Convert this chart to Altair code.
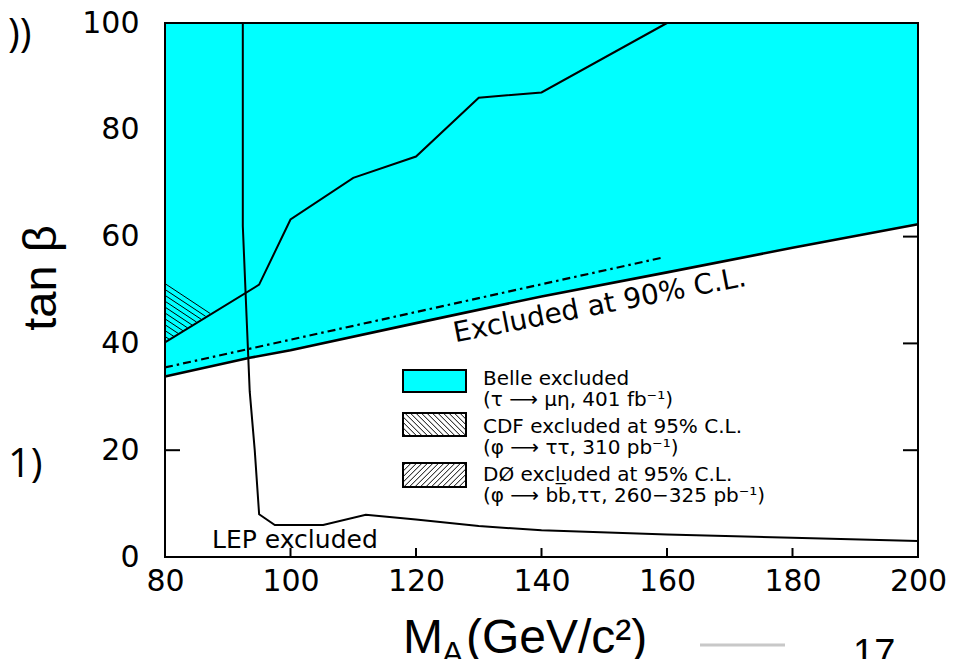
import altair as alt
import pandas as pd

# ---------------- data ----------------
x_ticks = [80, 100, 120, 140, 160, 180, 200]
y_ticks = [0, 20, 40, 60, 80, 100]

belle_mass = [80, 93.5, 100, 120, 140, 160, 180, 200]
belle_tanb = [33.8, 37.3, 38.7, 43.8, 48.8, 53.3, 57.9, 62.3]

upper_mass = [80, 95, 100, 110, 120, 130, 140, 160]
upper_tanb = [40.2, 51.0, 63.2, 71.0, 75.0, 86.0, 87.0, 100.0]

lep_mass = [92.4, 92.4, 93.0, 93.5, 94.3, 95.0, 97.5, 105.2, 112.0, 120.0, 130.0, 140.0, 160.0, 180.0, 200.0]
lep_tanb = [100, 62, 45, 31, 20, 8.0, 6.0, 6.0, 7.9, 7.0, 5.8, 5.0, 4.2, 3.6, 3.0]

dashdot_mass = [80, 159]
dashdot_tanb = [35.5, 56.0]

cdf_tri_mass = [80, 87.2, 80]
cdf_tri_tanb = [51.2, 45.6, 40.2]

legend_labels = [
    "Belle excluded",
    "(τ ⟶ μη, 401 fb⁻¹)",
    "CDF excluded at 95% C.L.",
    "(φ ⟶ ττ, 310 pb⁻¹)",
    "DØ excluded at 95% C.L.",
    "(φ ⟶ bb\u0305,ττ, 260−325 pb⁻¹)",
]

# ---------------- layout ----------------
W, H = 753, 534
X0, X1, Y0, Y1 = 80, 200, 0, 100
FONT = "DejaVu Sans"
TFONT = "Liberation Sans"


def px2x(p):
    return X0 + p / W * (X1 - X0)


def py2y(p):
    return Y1 - p / H * (Y1 - Y0)


xs = alt.Scale(domain=[X0, X1], nice=False, zero=False)
ys = alt.Scale(domain=[Y0, Y1], nice=False, zero=False)
xaxis = alt.Axis(values=x_ticks, ticks=False, domain=False, grid=False, title=None,
                 labelFont=FONT, labelFontSize=30, labelColor="black", labelPadding=9,
                 labelFlush=False, zindex=1)
yaxis = alt.Axis(values=y_ticks, ticks=False, domain=False, grid=False, title=None,
                 labelFont=FONT, labelFontSize=30, labelColor="black", labelPadding=26,
                 labelFlush=False, zindex=1)


def X(f):
    return alt.X(f, type="quantitative", scale=xs, axis=xaxis)


def Y(f):
    return alt.Y(f, type="quantitative", scale=ys, axis=yaxis)


# inward ticks
rows = []
for t in x_ticks[1:-1]:
    rows.append((t, t, 0, py2y(H - 9)))
for t in y_ticks:
    rows.append((X0, px2x(15), t, t))
    rows.append((X1, px2x(W - 15), t, t))
ticks_df = pd.DataFrame(rows, columns=["xa", "xb", "ya", "yb"])
ticks = alt.Chart(ticks_df).mark_rule(color="black", strokeWidth=2).encode(
    x=X("xa"), x2="xb", y=Y("ya"), y2="yb")

# Belle region
belle_df = pd.DataFrame({"m": belle_mass, "t": belle_tanb})
belle_area = alt.Chart(belle_df).mark_area(color="#00FFFF", opacity=1).encode(
    x=X("m"), y=Y("t"), y2=alt.datum(100))
belle_line = alt.Chart(belle_df).mark_line(color="black", strokeWidth=2.6).encode(
    x=X("m"), y=Y("t"))

# CDF hatched triangle
ax_, bx_, cx_ = cdf_tri_mass
ay_, by_, cy_ = cdf_tri_tanb
m_top = (by_ - ay_) / (bx_ - ax_)
m_bot = (by_ - cy_) / (bx_ - cx_)
hrows = []
c = cy_ + 1.1
while c <= ay_ + 0.01:
    d = (c - cy_) / (m_bot - m_top)
    hrows.append((ax_, ax_ + d, c, c + m_top * d))
    c += 1.1
hatch_df = pd.DataFrame(hrows, columns=["xa", "xb", "ya", "yb"])
hatch = alt.Chart(hatch_df).mark_rule(color="black", strokeWidth=1).encode(
    x=X("xa"), x2="xb", y=Y("ya"), y2="yb")

# curves
upper_df = pd.DataFrame({"m": upper_mass, "t": upper_tanb, "o": range(len(upper_mass))})
upper = alt.Chart(upper_df).mark_line(color="black", strokeWidth=2).encode(
    x=X("m"), y=Y("t"), order="o:Q")
lep_df = pd.DataFrame({"m": lep_mass, "t": lep_tanb, "o": range(len(lep_mass))})
lep = alt.Chart(lep_df).mark_line(color="black", strokeWidth=2).encode(
    x=X("m"), y=Y("t"), order="o:Q")
dd_df = pd.DataFrame({"m": dashdot_mass, "t": dashdot_tanb})
dashdot = alt.Chart(dd_df).mark_line(color="black", strokeWidth=2.2, strokeDash=[8, 4, 2.5, 4]).encode(
    x=X("m"), y=Y("t"))

# frame
frame = alt.Chart(pd.DataFrame({"a": [0]})).mark_rect(
    filled=False, stroke="black", strokeWidth=2).encode(
    x=alt.value(0), x2=alt.value(W), y=alt.value(0), y2=alt.value(H))

# in-plot annotations
ann_df = pd.DataFrame({"m": [87.5], "t": [1.7], "txt": ["LEP excluded"]})
lep_txt = alt.Chart(ann_df).mark_text(font=FONT, fontSize=25, align="left",
                                      baseline="alphabetic", color="black").encode(
    x=X("m"), y=Y("t"), text="txt")
ex_df = pd.DataFrame({"m": [149.3], "t": [47.0], "txt": ["Excluded at 90% C.L."]})
ex_txt = alt.Chart(ex_df).mark_text(font=FONT, fontSize=28, align="center",
                                    baseline="middle", angle=349, color="black").encode(
    x=X("m"), y=Y("t"), text="txt")

# legend
lg_rows_px = [356, 377, 404, 425, 452, 473]
lg_df = pd.DataFrame({"m": [px2x(318)] * 6, "t": [py2y(p) for p in lg_rows_px],
                      "txt": legend_labels})
lg_txt = alt.Chart(lg_df).mark_text(font=FONT, fontSize=20, align="left",
                                    baseline="middle", color="black").encode(
    x=X("m"), y=Y("t"), text="txt")

boxes_px = [(238, 347, 301, 369), (238, 390, 301, 413), (238, 440, 301, 464)]
box_df = pd.DataFrame({
    "xa": [px2x(b[0]) for b in boxes_px], "xb": [px2x(b[2]) for b in boxes_px],
    "ya": [py2y(b[1]) for b in boxes_px], "yb": [py2y(b[3]) for b in boxes_px],
    "fill": ["#00FFFF", "white", "white"]})
lg_box_fill = alt.Chart(box_df).mark_rect(stroke=None).encode(
    x=X("xa"), x2="xb", y=Y("ya"), y2="yb",
    color=alt.Color("fill:N", scale=None, legend=None))


def hatch_box(x0, y0, x1, y1, step, direction):
    segs = []
    if direction == "back":
        k = x0 - y1 + step / 2
        while k < x1 - y0:
            xa = max(x0, k + y0)
            xb = min(x1, k + y1)
            if xb > xa:
                segs.append((xa, xa - k, xb, xb - k))
            k += step
    else:
        k = x0 + y0 + step / 2
        while k < x1 + y1:
            xa = max(x0, k - y1)
            xb = min(x1, k - y0)
            if xb > xa:
                segs.append((xa, k - xa, xb, k - xb))
            k += step
    return segs


lh = []
for s in hatch_box(*boxes_px[1], 5.5, "back") + hatch_box(*boxes_px[2], 5.5, "fwd"):
    lh.append((px2x(s[0]), px2x(s[2]), py2y(s[1]), py2y(s[3])))
lh_df = pd.DataFrame(lh, columns=["xa", "xb", "ya", "yb"])
lg_hatch = alt.Chart(lh_df).mark_rule(color="black", strokeWidth=1).encode(
    x=X("xa"), x2="xb", y=Y("ya"), y2="yb")
lg_box_edge = alt.Chart(box_df).mark_rect(filled=False, stroke="black", strokeWidth=2).encode(
    x=X("xa"), x2="xb", y=Y("ya"), y2="yb")

# axis titles and slide fragments (pixel offsets relative to plot area)
one = pd.DataFrame({"a": [0]})


def ptext(txt, x, y, size, font=TFONT, angle=0, align="left", baseline="alphabetic", color="black"):
    kw = dict(text=txt, font=font, fontSize=size, align=align, baseline=baseline, color=color)
    if angle:
        kw["angle"] = angle
    return alt.Chart(one).mark_text(**kw).encode(x=alt.value(x), y=alt.value(y))


titles = [
    ptext("tan β", -123, 255, 47, angle=270, align="center", baseline="middle"),
    ptext("M", 238, 630, 48),
    ptext("A", 277, 641, 32),
    ptext("(GeV/c²)", 301, 630, 48),
    ptext("))", -157, 24, 40, font="Open Sans"),
    ptext("1)", -157, 454, 40, font="Open Sans"),
    ptext("17", 688, 643, 38),
]
smear = alt.Chart(one).mark_rule(color="#c8c8c8", strokeWidth=3).encode(
    x=alt.value(535), x2=alt.value(620), y=alt.value(622))

chart = alt.layer(
    ticks, belle_area, hatch, belle_line, upper, lep, dashdot, frame,
    lep_txt, ex_txt, lg_box_fill, lg_hatch, lg_box_edge, lg_txt, smear, *titles
).properties(
    width=W, height=H,
    padding={"left": 157, "top": 15, "right": 51, "bottom": 102},
    autosize=alt.AutoSizeParams(type="none"),
    background="white",
).configure_view(stroke=None)

chart.save("out.html", embed_options={"renderer": "svg", "actions": False})
